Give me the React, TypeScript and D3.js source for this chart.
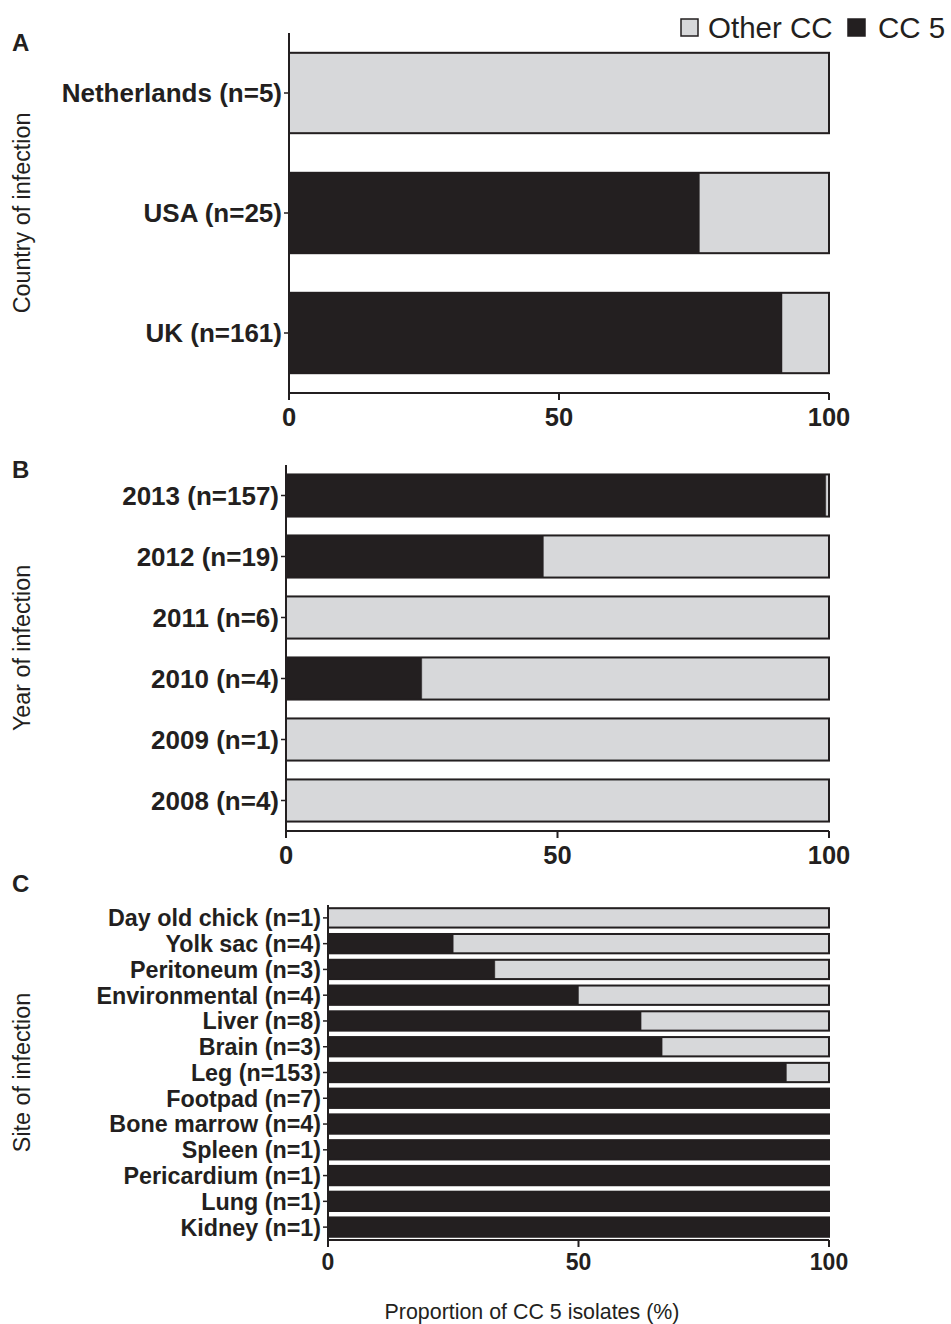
import * as d3 from "d3";

// Panel A — country of infection
const countryLabels = ["Netherlands (n=5)", "USA (n=25)", "UK (n=161)"];
const countryCC5 = [0, 76, 91.3];

// Panel B — year of infection
const yearLabels = ["2013 (n=157)", "2012 (n=19)", "2011 (n=6)", "2010 (n=4)", "2009 (n=1)", "2008 (n=4)"];
const yearCC5 = [99.4, 47.4, 0, 25, 0, 0];

// Panel C — site of infection
const siteLabels = [
  "Day old chick (n=1)", "Yolk sac (n=4)", "Peritoneum (n=3)", "Environmental (n=4)",
  "Liver (n=8)", "Brain (n=3)", "Leg (n=153)", "Footpad (n=7)", "Bone marrow (n=4)",
  "Spleen (n=1)", "Pericardium (n=1)", "Lung (n=1)", "Kidney (n=1)",
];
const siteCC5 = [0, 25, 33.3, 50, 62.5, 66.7, 91.5, 100, 100, 100, 100, 100, 100];

const xTicks = [0, 50, 100];
const legendItems = ["Other CC", "CC 5"];

const INK = "#231f20";
const GREY = "#d7d8da";
const FONT = "'Liberation Sans', Arial, Helvetica, sans-serif";

interface PanelProps {
  letter: string;
  letterY: number;
  title: string;
  labels: string[];
  values: number[];
  x0: number; x1: number;
  y0: number; y1: number;
  pad: number;
  labelSize: number;
  tickSize: number;
  tickY: number;
}

function Panel(p: PanelProps) {
  const x = d3.scaleLinear().domain([0, 100]).range([p.x0, p.x1]);
  const y = d3.scaleBand<string>()
    .domain(p.labels)
    .range([p.y0, p.y1])
    .paddingInner(p.pad)
    .paddingOuter(p.pad / 2);
  const bh = y.bandwidth();
  const midY = (p.y0 + p.y1) / 2;

  return (
    <g>
      <text x={12} y={p.letterY} fontSize={24} fontWeight="bold" fontFamily={FONT} fill={INK}>
        {p.letter}
      </text>
      <text transform={`translate(30,${midY}) rotate(-90)`} textAnchor="middle"
        fontSize={23.3} fontFamily={FONT} fill={INK}>
        {p.title}
      </text>

      {/* bars */}
      {p.labels.map((lab, i) => {
        const by = y(lab) ?? 0;
        const v = p.values[i];
        return (
          <g key={lab}>
            {v < 100 && (
              <rect x={x(v)} y={by} width={x(100) - x(v)} height={bh}
                fill={GREY} stroke="#8c8c8e" strokeWidth={1} />
            )}
            {v > 0 && (
              <rect x={x(0)} y={by} width={x(v) - x(0)} height={bh} fill={INK} />
            )}
            <rect x={x(0)} y={by} width={x(100) - x(0)} height={bh}
              fill="none" stroke={INK} strokeWidth={2} />
          </g>
        );
      })}

      {/* y axis */}
      <line x1={p.x0} x2={p.x0} y1={p.y0} y2={p.y1} stroke={INK} strokeWidth={2} />
      {p.labels.map((lab) => {
        const cy = (y(lab) ?? 0) + bh / 2;
        return (
          <g key={`t-${lab}`}>
            <line x1={p.x0 - 5} x2={p.x0} y1={cy} y2={cy} stroke={INK} strokeWidth={1.5} />
            <text x={p.x0 - 7} y={cy} dy="0.36em" textAnchor="end"
              fontSize={p.labelSize} fontWeight="bold" fontFamily={FONT} fill={INK}>
              {lab}
            </text>
          </g>
        );
      })}

      {/* x axis */}
      <line x1={p.x0} x2={p.x1} y1={p.y1} y2={p.y1} stroke={INK} strokeWidth={2} />
      {xTicks.map((t) => (
        <g key={`x-${t}`}>
          <line x1={x(t)} x2={x(t)} y1={p.y1} y2={p.y1 + 7} stroke={INK} strokeWidth={2} />
          <text x={x(t)} y={p.tickY} textAnchor="middle" fontSize={p.tickSize}
            fontWeight="bold" fontFamily={FONT} fill={INK}>
            {t}
          </text>
        </g>
      ))}
    </g>
  );
}

export default function App() {
  return (
    <svg width={951} height={1324} style={{ position: "absolute", left: 0, top: 0, background: "#fff" }}>
      {/* legend */}
      <rect x={681} y={19} width={17} height={17} fill={GREY} stroke={INK} strokeWidth={1.5} />
      <text x={708} y={38} fontSize={29.5} fontFamily={FONT} fill={INK}>{legendItems[0]}</text>
      <rect x={848} y={19} width={17} height={17} fill={INK} stroke={INK} strokeWidth={1.5} />
      <text x={878} y={38} fontSize={29.5} fontFamily={FONT} fill={INK}>{legendItems[1]}</text>

      <Panel letter="A" letterY={51} title="Country of infection"
        labels={countryLabels} values={countryCC5}
        x0={289} x1={829} y0={33} y1={393} pad={0.33}
        labelSize={26} tickSize={25.5} tickY={426} />

      <Panel letter="B" letterY={478} title="Year of infection"
        labels={yearLabels} values={yearCC5}
        x0={286} x1={829} y0={465} y1={831} pad={0.31}
        labelSize={26} tickSize={25.5} tickY={864} />

      <Panel letter="C" letterY={892} title="Site of infection"
        labels={siteLabels} values={siteCC5}
        x0={328} x1={829} y0={905} y1={1240} pad={0.25}
        labelSize={23.3} tickSize={23} tickY={1270} />

      <text x={532} y={1319} textAnchor="middle" fontSize={21.4} fontFamily={FONT} fill={INK}>
        Proportion of CC 5 isolates (%)
      </text>
    </svg>
  );
}
